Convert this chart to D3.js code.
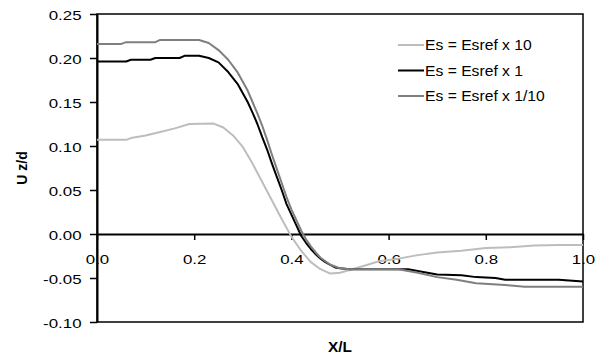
<!DOCTYPE html>
<html>
<head>
<meta charset="utf-8">
<script src="https://cdn.jsdelivr.net/npm/d3@7"></script>
<style>
  body { margin: 0; background: #fff; }
  text { font-family: Arial, "Liberation Sans", sans-serif; fill: #000; }
</style>
</head>
<body>
<div id="chart"></div>
<script>
// series values
const seriesNames = ['Es = Esref x 10', 'Es = Esref x 1', 'Es = Esref x 1/10'];
const seriesColors = ['#bdbdbd', '#000000', '#7f7f7f'];

const x10 = [0, 0.06, 0.07, 0.10, 0.13, 0.16, 0.19, 0.24, 0.26, 0.28, 0.30, 0.32, 0.34, 0.36, 0.38, 0.40,
  0.42, 0.44, 0.46, 0.48, 0.50, 0.52, 0.55, 0.58, 0.62, 0.66, 0.70, 0.75, 0.80, 0.85, 0.90, 0.95, 1.0];
const u10 = [0.107, 0.107, 0.109, 0.112, 0.116, 0.120, 0.125, 0.1255, 0.121, 0.112, 0.099, 0.080, 0.059, 0.038, 0.017, -0.003,
  -0.019, -0.032, -0.040, -0.045, -0.044, -0.041, -0.036, -0.031, -0.028, -0.024, -0.021, -0.019, -0.016, -0.015, -0.013, -0.0125, -0.0125];

const x1 = [0, 0.06, 0.07, 0.11, 0.12, 0.17, 0.18, 0.21, 0.23, 0.25, 0.27, 0.29, 0.31, 0.32, 0.33, 0.34, 0.35, 0.36, 0.37,
  0.38, 0.39, 0.40, 0.41, 0.42, 0.43, 0.44, 0.45, 0.46, 0.47, 0.48, 0.49, 0.50, 0.52, 0.64, 0.66, 0.70, 0.75, 0.78, 0.82, 0.84, 0.95, 1.0];
const u1 = [0.196, 0.196, 0.198, 0.198, 0.200, 0.200, 0.2025, 0.2025, 0.200, 0.195, 0.184, 0.170, 0.150, 0.138, 0.125, 0.110, 0.096, 0.080, 0.065,
  0.050, 0.034, 0.022, 0.010, -0.002, -0.010, -0.017, -0.023, -0.028, -0.032, -0.035, -0.038, -0.039, -0.040, -0.040, -0.042, -0.046, -0.047, -0.049, -0.050, -0.052, -0.052, -0.054];

const x01 = [0, 0.05, 0.06, 0.12, 0.13, 0.21, 0.23, 0.25, 0.27, 0.29, 0.31, 0.32, 0.33, 0.34, 0.35, 0.36, 0.37, 0.38, 0.39,
  0.40, 0.41, 0.42, 0.43, 0.44, 0.45, 0.46, 0.47, 0.48, 0.49, 0.50, 0.52, 0.62, 0.66, 0.70, 0.74, 0.78, 0.84, 0.88, 1.0];
const u01 = [0.216, 0.216, 0.218, 0.218, 0.2205, 0.2205, 0.217, 0.209, 0.198, 0.183, 0.163, 0.150, 0.137, 0.123, 0.107, 0.090, 0.074, 0.058, 0.042,
  0.028, 0.016, 0.004, -0.006, -0.014, -0.021, -0.027, -0.031, -0.035, -0.037, -0.039, -0.040, -0.040, -0.044, -0.049, -0.052, -0.056, -0.058, -0.060, -0.060];

const xTicks = [0, 0.2, 0.4, 0.6, 0.8, 1.0];
const yTicks = [-0.10, -0.05, 0, 0.05, 0.10, 0.15, 0.20, 0.25];

const width = 600, height = 358;
const plotL = 97, plotR = 583, plotT = 14, plotB = 322;
const stretch = 1.35; // tick labels in the picture are drawn wide

const svg = d3.select('#chart').append('svg')
  .attr('width', width)
  .attr('height', height);

const x = d3.scaleLinear().domain([0, 1]).range([plotL, plotR]);
const y = d3.scaleLinear().domain([-0.10, 0.25]).range([plotB, plotT]);

// plain hyphen for negatives, like the picture
const fmt = p => v => v.toFixed(p);

// plot frame
svg.append('rect')
  .attr('x', plotL).attr('y', plotT)
  .attr('width', plotR - plotL).attr('height', plotB - plotT)
  .attr('fill', 'none').attr('stroke', '#000').attr('stroke-width', 1.5);

// y axis
const yAxis = svg.append('g')
  .attr('transform', `translate(${plotL},0)`)
  .call(d3.axisLeft(y).tickValues(yTicks).tickFormat(fmt(2)).tickSize(7).tickSizeOuter(0));
yAxis.select('.domain').attr('stroke-width', 2);
yAxis.selectAll('.tick line').attr('stroke-width', 1.5);
yAxis.selectAll('.tick text')
  .attr('x', -15.5 / stretch)
  .attr('dy', '0.4em')
  .attr('transform', `scale(${stretch},1)`)
  .style('font-size', '12.5px')
  .style('font-family', 'Arial, "Liberation Sans", sans-serif');

// x axis sits on zero
const xAxis = svg.append('g')
  .attr('transform', `translate(0,${y(0)})`)
  .call(d3.axisBottom(x).tickValues(xTicks).tickFormat(fmt(1)).tickSize(6).tickSizeOuter(0));
xAxis.select('.domain').attr('stroke-width', 2);
xAxis.selectAll('.tick line').attr('stroke-width', 1.5);
xAxis.selectAll('.tick text')
  .attr('y', 30)
  .attr('dy', 0)
  .attr('transform', `scale(${stretch},1)`)
  .style('font-size', '12.5px')
  .style('font-family', 'Arial, "Liberation Sans", sans-serif');

// series
svg.append('clipPath').attr('id', 'clip')
  .append('rect').attr('x', plotL).attr('y', plotT).attr('width', plotR - plotL).attr('height', plotB - plotT);

const line = d3.line().x(d => x(d[0])).y(d => y(d[1]));
const series = [
  d3.zip(x10, u10),
  d3.zip(x1, u1),
  d3.zip(x01, u01)
];

svg.append('g').attr('clip-path', 'url(#clip)')
  .selectAll('path')
  .data(series)
  .enter()
  .append('path')
  .attr('d', line)
  .attr('fill', 'none')
  .attr('stroke', (d, i) => seriesColors[i])
  .attr('stroke-width', 2)
  .attr('stroke-linejoin', 'round');

// legend
const legend = svg.append('g').attr('transform', 'translate(398,45)');
const rows = legend.selectAll('g')
  .data(seriesNames)
  .enter()
  .append('g')
  .attr('transform', (d, i) => `translate(0,${i * 25.5})`);
rows.append('line')
  .attr('x1', 0).attr('x2', 26)
  .attr('stroke', (d, i) => seriesColors[i])
  .attr('stroke-width', 2);
rows.append('text')
  .attr('x', 27 / 1.12)
  .attr('dy', '0.36em')
  .attr('transform', 'scale(1.12,1)')
  .style('font-size', '14px')
  .text(d => d);

// axis titles
svg.append('text')
  .attr('x', 340 / 1.1).attr('y', 352)
  .attr('text-anchor', 'middle')
  .attr('transform', 'scale(1.1,1)')
  .style('font-size', '14px')
  .style('font-weight', 'bold')
  .text('X/L');

svg.append('text')
  .attr('transform', 'translate(27,168) rotate(-90)')
  .attr('text-anchor', 'middle')
  .style('font-size', '14px')
  .style('font-weight', 'bold')
  .text('U z/d');
</script>
</body>
</html>
